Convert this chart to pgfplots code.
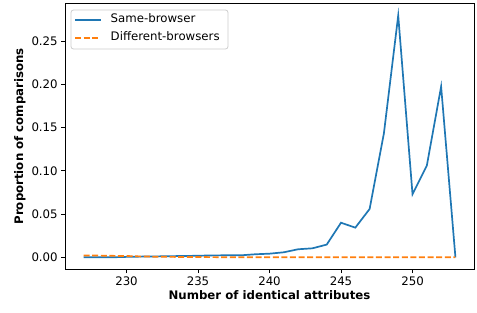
\documentclass[border=0pt]{standalone}
\usepackage{fontspec}
\setmainfont{DejaVu Sans}
\usepackage{pgfplots}
\pgfplotsset{compat=1.18}
\definecolor{cblue}{HTML}{1F77B4}
\definecolor{corange}{HTML}{FF7F0E}
\tikzset{orangedash/.style={draw=corange, line width=1.7bp, dash pattern=on 6bp off 2.6bp}}
\begin{document}
\begin{tikzpicture}[x=1bp,y=1bp]
\path[use as bounding box] (0,0) rectangle (477,312);
\begin{axis}[
  at={(65bp,42.6bp)}, anchor=south west,
  scale only axis, width=409bp, height=266bp,
  xmin=225.7, xmax=254.3, ymin=-0.014, ymax=0.2937,
  xtick={230,235,240,245,250},
  ytick={0,0.05,0.10,0.15,0.20,0.25},
  yticklabel style={/pgf/number format/.cd,fixed,fixed zerofill,precision=2},
  /pgf/number format/assume math mode=true,
  tick label style={font=\fontsize{11.8}{13}\selectfont},
  tick align=outside, major tick length=3.8bp,
  tick style={black, line width=0.8bp},
  xtick pos=bottom, ytick pos=left,
  axis line style={line width=0.8bp},
  every axis plot/.append style={line width=1.7bp},
  xlabel={\bfseries Number of identical attributes},
  ylabel={\bfseries Proportion of comparisons},
  label style={font=\fontsize{11.8}{13}\selectfont},
  xlabel style={yshift=2bp},
  ylabel style={yshift=-1bp},
]
\addplot[draw=cblue, line width=1.7bp] coordinates {
(227,0.0000) (228,0.0000) (229,0.0000) (230,0.0005) (231,0.0008) (232,0.0010)
(233,0.0013) (234,0.0015) (235,0.0018) (236,0.0022) (237,0.0023) (238,0.0023)
(239,0.0035) (240,0.0042) (241,0.0058) (242,0.0093) (243,0.0104) (244,0.0147)
(245,0.0400) (246,0.0343) (247,0.0559) (248,0.1435) (249,0.2797) (250,0.0729)
(251,0.1060) (252,0.1975) (253,0.0000)
};
\addplot[orangedash] coordinates {
(227,0.0020) (228,0.0020) (229,0.0017) (230,0.0015) (231,0.0010) (232,0.0007)
(233,0.0005) (234,0.0004) (235,0.0003) (236,0.0002) (237,0.0001) (238,0.0001)
(239,0.0000) (240,0.0000) (241,0.0000) (242,0.0000) (243,0.0000) (244,0.0000)
(245,0.0000) (246,0.0000) (247,0.0000) (248,0.0000) (249,0.0000) (250,0.0000)
(251,0.0000) (252,0.0000) (253,0.0000)
};
\end{axis}
% legend
\draw[black!20, fill=white, line width=0.8bp, rounded corners=2.5bp] (71,263) rectangle (228,302);
\draw[cblue, line width=1.7bp] (75,292) -- (100.5,292);
\draw[orangedash] (75,274.3) -- (100.5,274.3);
\node[anchor=mid west, inner sep=0pt, font=\fontsize{11.8}{13}\selectfont] at (110.5,292) {Same-browser};
\node[anchor=mid west, inner sep=0pt, font=\fontsize{11.8}{13}\selectfont] at (110.5,274.3) {Different-browsers};
\end{tikzpicture}
\end{document}
